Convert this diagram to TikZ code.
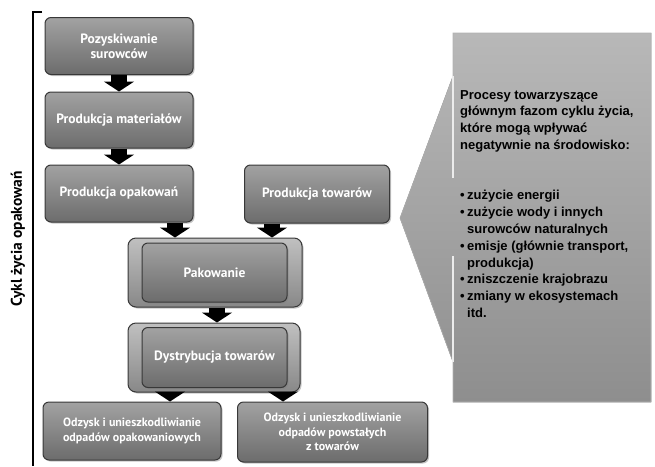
\documentclass[tikz,border=0pt]{standalone}
\usepackage{fontspec}
\setmainfont{PT Sans}
\newfontfamily\callfont{Liberation Sans}
\usetikzlibrary{arrows.meta,shadows,calc}
\definecolor{boxtop}{HTML}{A2A2A2}
\definecolor{boxbot}{HTML}{6C6C6C}
\definecolor{boxline}{HTML}{383838}
\definecolor{frametop}{HTML}{C0C0C0}
\definecolor{framebot}{HTML}{888888}
\definecolor{calltop}{HTML}{B8B8B8}
\definecolor{callbot}{HTML}{8E8E8E}
\tikzset{
  box/.style={draw=boxline, line width=1pt, rounded corners=6pt,
    top color=boxtop, bottom color=boxbot, text=white,
    font=\bfseries\fontsize{13.5}{15}\selectfont, align=center, inner sep=0pt,
    drop shadow={shadow xshift=1.5pt, shadow yshift=-1.5pt, opacity=0.45}},
  smallbox/.style={box, font=\bfseries\fontsize{12}{14.5}\selectfont},
  frame/.style={draw=boxline, line width=1pt, rounded corners=8pt,
    top color=frametop, bottom color=framebot, inner sep=0pt,
    drop shadow={shadow xshift=1.5pt, shadow yshift=-1.5pt, opacity=0.45}},
  blk/.style={line width=16pt, black, -{Triangle[width=30pt,length=10pt]}},
}
\begin{document}
\begin{tikzpicture}[x=1pt,y=-1pt]
\useasboundingbox (0,0) rectangle (655,466);

% bracket and label
\coordinate (bt) at (42,12);
\coordinate (bc) at (33,12);
\coordinate (bb) at (33,466);
\draw[line width=1.2pt] (bt) -- (bc) -- (bb);
\node[rotate=90, font=\bfseries\fontsize{15.5}{17}\selectfont] (lab) at (18,239) {Cykl życia opakowań};

% boxes
\node[box, minimum width=148pt, minimum height=57pt] (n1) at (119,46) {Pozyskiwanie\\surowców};
\node[box, minimum width=148pt, minimum height=56pt] (n2) at (119,120) {Produkcja materiałów};
\node[box, minimum width=148pt, minimum height=57pt] (n3) at (119,193.5) {Produkcja opakowań};
\node[box, minimum width=145pt, minimum height=58pt] (n4) at (317,194) {Produkcja towarów};

\node[frame, minimum width=174pt, minimum height=69pt] (pako) at (215,272.5) {};
\node[box, minimum width=145pt, minimum height=59pt] (pak) at (214.5,272.5) {Pakowanie};

\node[frame, minimum width=172pt, minimum height=69pt] (dyso) at (214,357.5) {};
\node[box, minimum width=145pt, minimum height=60pt] (dys) at (214.5,357.5) {Dystrybucja towarów};

\node[smallbox, minimum width=178pt, minimum height=58pt] (n7) at (132,431) {Odzysk i unieszkodliwianie\\odpadów opakowaniowych};
\node[smallbox, minimum width=190pt, minimum height=60pt] (n8) at (332.5,432) {Odzysk i unieszkodliwianie\\odpadów powstałych\\z towarów};

% arrows
\draw[blk] (n1.south) -- (n2.north);
\draw[blk] (n2.south) -- (n3.north);
\draw[blk] ([xshift=56pt]n3.south) -- ([xshift=56pt]n3.south |- pako.north);
\draw[blk] ([xshift=-45pt]n4.south) -- ([xshift=-45pt]n4.south |- pako.north);
\draw[blk] ([xshift=2pt]pako.south) -- ([xshift=2pt]pako.south |- dyso.north);
\draw[blk] ([xshift=38pt]n7.north |- dyso.south) -- ([xshift=38pt]n7.north);
\draw[blk] ([xshift=-49.5pt]n8.north |- dyso.south) -- ([xshift=-49.5pt]n8.north);

% callout
\coordinate (c1) at (453,33);
\coordinate (c2) at (651,33);
\coordinate (c3) at (651,402);
\coordinate (c4) at (453,402);
\coordinate (c5) at (453,362);
\coordinate (c6) at (400,218);
\coordinate (c7) at (453,76);
\fill[top color=calltop, bottom color=callbot, draw=gray!60, line width=0.6pt]
  (c1) -- (c2) -- (c3) -- (c4) -- (c5) -- (c6) -- (c7) -- cycle;
\coordinate (e1) at (453,76);
\coordinate (e2) at (453,178);
\coordinate (e3) at (453,256);
\coordinate (e4) at (453,362);
\draw[white!85!gray, line width=1.2pt] (e1) -- (e2);
\draw[white!85!gray, line width=1.2pt] (e3) -- (e4);

\node[anchor=north west, align=left, inner sep=0pt,
  font=\callfont\bfseries\fontsize{13}{16.8}\selectfont] (ct) at (460,90)
{Procesy towarzyszące\\
głównym fazom cyklu życia,\\
które mogą wpływać\\
negatywnie na środowisko:\\[33.6pt]
\makebox[7pt][l]{•}zużycie energii\\
\makebox[7pt][l]{•}zużycie wody i innych\\
\makebox[7pt][l]{}surowców naturalnych\\
\makebox[7pt][l]{•}emisje (głównie transport,\\
\makebox[7pt][l]{}produkcja)\\
\makebox[7pt][l]{•}zniszczenie krajobrazu\\
\makebox[7pt][l]{•}zmiany w ekosystemach\\
\makebox[7pt][l]{}itd.};
\end{tikzpicture}
\end{document}
